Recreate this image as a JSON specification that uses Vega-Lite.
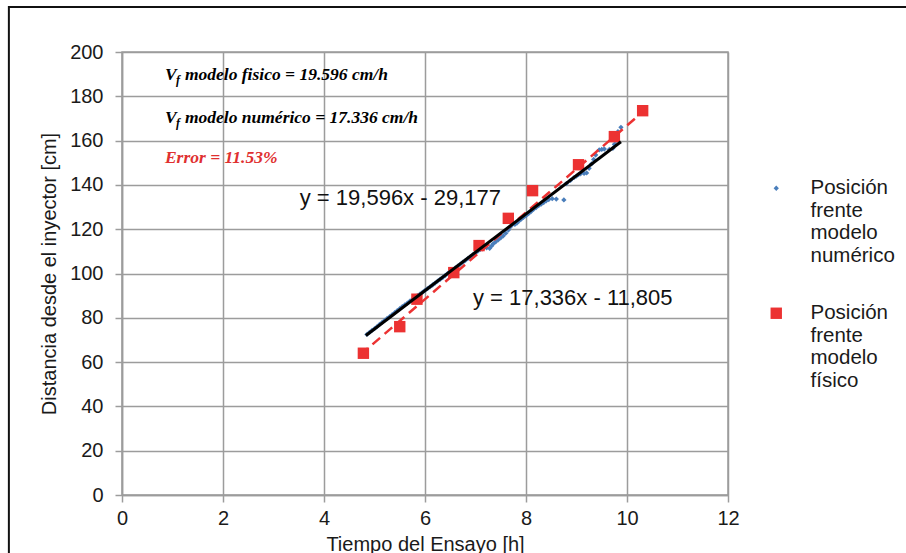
{
  "$schema": "https://vega.github.io/schema/vega-lite/v6.json",
  "width": 606,
  "height": 443,
  "autosize": "none",
  "padding": {"left": 122, "top": 52, "right": 178, "bottom": 58},
  "background": "white",
  "config": {
    "font": "Liberation Sans",
    "view": {"stroke": "#9c9c9c", "strokeWidth": 1.5},
    "axis": {
      "grid": true,
      "labelFlush": false,
      "gridColor": "#9c9c9c", "gridWidth": 1.5, "gridOpacity": 1,
      "domainColor": "#9c9c9c", "domainWidth": 1.5,
      "tickColor": "#9c9c9c", "tickWidth": 1.5, "tickSize": 7,
      "labelFont": "Liberation Sans", "labelFontSize": 20, "labelColor": "#1a1a1a",
      "titleFont": "Liberation Sans", "titleFontSize": 20, "titleFontWeight": "normal", "titleColor": "#1a1a1a"
    }
  },
  "layer": [
    {
      "data": {"values": [
        {"t": 4.85, "d": 72.5, "serie": "Posición frente modelo numérico"},
        {"t": 4.9, "d": 73.4, "serie": "Posición frente modelo numérico"},
        {"t": 4.95, "d": 74.3, "serie": "Posición frente modelo numérico"},
        {"t": 5.0, "d": 75.1, "serie": "Posición frente modelo numérico"},
        {"t": 5.05, "d": 76.0, "serie": "Posición frente modelo numérico"},
        {"t": 5.1, "d": 77.0, "serie": "Posición frente modelo numérico"},
        {"t": 5.15, "d": 77.9, "serie": "Posición frente modelo numérico"},
        {"t": 5.2, "d": 78.8, "serie": "Posición frente modelo numérico"},
        {"t": 5.25, "d": 79.7, "serie": "Posición frente modelo numérico"},
        {"t": 5.3, "d": 80.5, "serie": "Posición frente modelo numérico"},
        {"t": 5.35, "d": 81.4, "serie": "Posición frente modelo numérico"},
        {"t": 5.4, "d": 82.3, "serie": "Posición frente modelo numérico"},
        {"t": 5.45, "d": 83.2, "serie": "Posición frente modelo numérico"},
        {"t": 5.5, "d": 84.1, "serie": "Posición frente modelo numérico"},
        {"t": 5.55, "d": 85.0, "serie": "Posición frente modelo numérico"},
        {"t": 5.6, "d": 85.8, "serie": "Posición frente modelo numérico"},
        {"t": 5.65, "d": 86.6, "serie": "Posición frente modelo numérico"},
        {"t": 5.7, "d": 87.5, "serie": "Posición frente modelo numérico"},
        {"t": 5.75, "d": 88.3, "serie": "Posición frente modelo numérico"},
        {"t": 5.8, "d": 89.2, "serie": "Posición frente modelo numérico"},
        {"t": 5.85, "d": 90.0, "serie": "Posición frente modelo numérico"},
        {"t": 5.9, "d": 90.7, "serie": "Posición frente modelo numérico"},
        {"t": 5.95, "d": 91.5, "serie": "Posición frente modelo numérico"},
        {"t": 6.0, "d": 92.4, "serie": "Posición frente modelo numérico"},
        {"t": 6.05, "d": 93.2, "serie": "Posición frente modelo numérico"},
        {"t": 6.1, "d": 94.0, "serie": "Posición frente modelo numérico"},
        {"t": 6.15, "d": 94.8, "serie": "Posición frente modelo numérico"},
        {"t": 6.2, "d": 95.7, "serie": "Posición frente modelo numérico"},
        {"t": 6.25, "d": 96.6, "serie": "Posición frente modelo numérico"},
        {"t": 6.3, "d": 97.4, "serie": "Posición frente modelo numérico"},
        {"t": 6.35, "d": 98.2, "serie": "Posición frente modelo numérico"},
        {"t": 6.4, "d": 99.1, "serie": "Posición frente modelo numérico"},
        {"t": 6.45, "d": 100.0, "serie": "Posición frente modelo numérico"},
        {"t": 6.5, "d": 100.8, "serie": "Posición frente modelo numérico"},
        {"t": 6.55, "d": 101.6, "serie": "Posición frente modelo numérico"},
        {"t": 6.6, "d": 102.5, "serie": "Posición frente modelo numérico"},
        {"t": 6.65, "d": 103.3, "serie": "Posición frente modelo numérico"},
        {"t": 6.7, "d": 104.2, "serie": "Posición frente modelo numérico"},
        {"t": 6.75, "d": 105.1, "serie": "Posición frente modelo numérico"},
        {"t": 6.8, "d": 105.9, "serie": "Posición frente modelo numérico"},
        {"t": 6.85, "d": 106.8, "serie": "Posición frente modelo numérico"},
        {"t": 6.9, "d": 107.6, "serie": "Posición frente modelo numérico"},
        {"t": 6.95, "d": 108.5, "serie": "Posición frente modelo numérico"},
        {"t": 7.0, "d": 109.3, "serie": "Posición frente modelo numérico"},
        {"t": 7.05, "d": 110.2, "serie": "Posición frente modelo numérico"},
        {"t": 7.1, "d": 110.9, "serie": "Posición frente modelo numérico"},
        {"t": 7.15, "d": 111.3, "serie": "Posición frente modelo numérico"},
        {"t": 7.22, "d": 111.6, "serie": "Posición frente modelo numérico"},
        {"t": 7.28, "d": 111.4, "serie": "Posición frente modelo numérico"},
        {"t": 7.32, "d": 112.5, "serie": "Posición frente modelo numérico"},
        {"t": 7.35, "d": 113.4, "serie": "Posición frente modelo numérico"},
        {"t": 7.4, "d": 114.3, "serie": "Posición frente modelo numérico"},
        {"t": 7.45, "d": 115.2, "serie": "Posición frente modelo numérico"},
        {"t": 7.5, "d": 116.1, "serie": "Posición frente modelo numérico"},
        {"t": 7.55, "d": 117.0, "serie": "Posición frente modelo numérico"},
        {"t": 7.6, "d": 118.2, "serie": "Posición frente modelo numérico"},
        {"t": 7.65, "d": 119.6, "serie": "Posición frente modelo numérico"},
        {"t": 7.68, "d": 120.8, "serie": "Posición frente modelo numérico"},
        {"t": 7.72, "d": 121.8, "serie": "Posición frente modelo numérico"},
        {"t": 7.78, "d": 122.2, "serie": "Posición frente modelo numérico"},
        {"t": 7.82, "d": 122.8, "serie": "Posición frente modelo numérico"},
        {"t": 7.85, "d": 123.5, "serie": "Posición frente modelo numérico"},
        {"t": 7.9, "d": 124.4, "serie": "Posición frente modelo numérico"},
        {"t": 7.95, "d": 125.3, "serie": "Posición frente modelo numérico"},
        {"t": 8.0, "d": 126.1, "serie": "Posición frente modelo numérico"},
        {"t": 8.05, "d": 127.0, "serie": "Posición frente modelo numérico"},
        {"t": 8.1, "d": 128.0, "serie": "Posición frente modelo numérico"},
        {"t": 8.15, "d": 129.0, "serie": "Posición frente modelo numérico"},
        {"t": 8.2, "d": 129.8, "serie": "Posición frente modelo numérico"},
        {"t": 8.25, "d": 130.6, "serie": "Posición frente modelo numérico"},
        {"t": 8.3, "d": 131.3, "serie": "Posición frente modelo numérico"},
        {"t": 8.35, "d": 132.0, "serie": "Posición frente modelo numérico"},
        {"t": 8.4, "d": 132.8, "serie": "Posición frente modelo numérico"},
        {"t": 8.45, "d": 133.4, "serie": "Posición frente modelo numérico"},
        {"t": 8.52, "d": 133.8, "serie": "Posición frente modelo numérico"},
        {"t": 8.6, "d": 133.6, "serie": "Posición frente modelo numérico"},
        {"t": 8.75, "d": 133.2, "serie": "Posición frente modelo numérico"},
        {"t": 8.8, "d": 140.6, "serie": "Posición frente modelo numérico"},
        {"t": 8.88, "d": 142.0, "serie": "Posición frente modelo numérico"},
        {"t": 8.95, "d": 143.3, "serie": "Posición frente modelo numérico"},
        {"t": 9.0, "d": 144.0, "serie": "Posición frente modelo numérico"},
        {"t": 9.04, "d": 144.6, "serie": "Posición frente modelo numérico"},
        {"t": 9.08, "d": 145.0, "serie": "Posición frente modelo numérico"},
        {"t": 9.15, "d": 145.2, "serie": "Posición frente modelo numérico"},
        {"t": 9.2, "d": 145.4, "serie": "Posición frente modelo numérico"},
        {"t": 9.25, "d": 147.5, "serie": "Posición frente modelo numérico"},
        {"t": 9.3, "d": 149.5, "serie": "Posición frente modelo numérico"},
        {"t": 9.34, "d": 151.5, "serie": "Posición frente modelo numérico"},
        {"t": 9.38, "d": 153.5, "serie": "Posición frente modelo numérico"},
        {"t": 9.45, "d": 155.8, "serie": "Posición frente modelo numérico"},
        {"t": 9.5, "d": 156.0, "serie": "Posición frente modelo numérico"},
        {"t": 9.55, "d": 156.2, "serie": "Posición frente modelo numérico"},
        {"t": 9.65, "d": 156.0, "serie": "Posición frente modelo numérico"},
        {"t": 9.72, "d": 156.5, "serie": "Posición frente modelo numérico"},
        {"t": 9.75, "d": 158.3, "serie": "Posición frente modelo numérico"},
        {"t": 9.78, "d": 160.0, "serie": "Posición frente modelo numérico"},
        {"t": 9.8, "d": 162.0, "serie": "Posición frente modelo numérico"},
        {"t": 9.82, "d": 164.0, "serie": "Posición frente modelo numérico"},
        {"t": 9.88, "d": 166.0, "serie": "Posición frente modelo numérico"},
        {"t": 4.78, "d": 64.0, "serie": "Posición frente modelo físico"},
        {"t": 5.5, "d": 76.0, "serie": "Posición frente modelo físico"},
        {"t": 5.84, "d": 88.4, "serie": "Posición frente modelo físico"},
        {"t": 6.57, "d": 100.4, "serie": "Posición frente modelo físico"},
        {"t": 7.07, "d": 112.6, "serie": "Posición frente modelo físico"},
        {"t": 7.65, "d": 124.9, "serie": "Posición frente modelo físico"},
        {"t": 8.13, "d": 137.4, "serie": "Posición frente modelo físico"},
        {"t": 9.04, "d": 149.1, "serie": "Posición frente modelo físico"},
        {"t": 9.75, "d": 161.8, "serie": "Posición frente modelo físico"},
        {"t": 10.31, "d": 173.5, "serie": "Posición frente modelo físico"}
      ]},
      "mark": {"type": "point", "filled": true, "opacity": 1},
      "encoding": {
        "x": {"field": "t", "type": "quantitative", "title": "Tiempo del Ensayo [h]",
              "scale": {"domain": [0, 12], "nice": false, "zero": false},
              "axis": {"values": [0, 2, 4, 6, 8, 10, 12], "labelPadding": 6, "titlePadding": 6}},
        "y": {"field": "d", "type": "quantitative", "title": "Distancia desde el inyector [cm]",
              "scale": {"domain": [0, 200], "nice": false, "zero": false},
              "axis": {"values": [0, 20, 40, 60, 80, 100, 120, 140, 160, 180, 200], "labelPadding": 12, "titlePadding": 10}},
        "color": {"field": "serie", "type": "nominal",
                  "scale": {"domain": ["Posición frente modelo numérico", "Posición frente modelo físico"], "range": ["#4a7ebb", "#ec3232"]},
                  "legend": {"title": null, "orient": "none", "legendX": 644, "legendY": 126, "padding": 0,
                             "labelFont": "Liberation Sans", "labelFontSize": 20.5, "labelColor": "#1a1a1a", "labelLimit": 0,
                             "labelOffset": 24, "labelBaseline": "middle", "rowPadding": 36,
                             "labelExpr": "datum.label == 'Posición frente modelo numérico' ? ['Posición','frente','modelo','numérico'] : ['Posición','frente','modelo','físico']"}},
        "shape": {"field": "serie", "type": "nominal",
                  "scale": {"domain": ["Posición frente modelo numérico", "Posición frente modelo físico"], "range": ["diamond", "square"]}},
        "size": {"field": "serie", "type": "nominal",
                 "scale": {"domain": ["Posición frente modelo numérico", "Posición frente modelo físico"], "range": [28, 130]}}
      }
    },
    {
      "data": {"values": [{"t": 4.72, "d": 63.3}, {"t": 10.31, "d": 172.9}]},
      "mark": {"type": "line", "color": "#ec3232", "strokeWidth": 2.5, "strokeDash": [10, 6]},
      "encoding": {"x": {"field": "t", "type": "quantitative"}, "y": {"field": "d", "type": "quantitative"}}
    },
    {
      "data": {"values": [{"t": 4.83, "d": 72.0}, {"t": 9.88, "d": 159.5}]},
      "mark": {"type": "line", "color": "#000000", "strokeWidth": 3},
      "encoding": {"x": {"field": "t", "type": "quantitative"}, "y": {"field": "d", "type": "quantitative"}}
    },
    {
      "data": {"values": [
        {"t": 3.52, "d": 134.1, "txt": "y = 19,596x - 29,177"},
        {"t": 6.95, "d": 88.9, "txt": "y = 17,336x - 11,805"}
      ]},
      "mark": {"type": "text", "align": "left", "baseline": "middle", "font": "Liberation Sans", "fontSize": 22, "color": "#111111"},
      "encoding": {"x": {"field": "t", "type": "quantitative"}, "y": {"field": "d", "type": "quantitative"}, "text": {"field": "txt"}}
    },
    {
      "data": {"values": [
        {"t": 0.85, "d": 189.6, "txt": "V"},
        {"t": 0.85, "d": 170.2, "txt": "V"}
      ]},
      "mark": {"type": "text", "align": "left", "baseline": "middle", "font": "Liberation Serif", "fontSize": 17.5, "fontWeight": "bold", "fontStyle": "italic", "color": "#000000"},
      "encoding": {"x": {"field": "t", "type": "quantitative"}, "y": {"field": "d", "type": "quantitative"}, "text": {"field": "txt"}}
    },
    {
      "data": {"values": [
        {"t": 0.85, "d": 189.6, "txt": "f"},
        {"t": 0.85, "d": 170.2, "txt": "f"}
      ]},
      "mark": {"type": "text", "align": "left", "baseline": "middle", "font": "Liberation Serif", "fontSize": 12, "fontWeight": "bold", "fontStyle": "italic", "color": "#000000", "dx": 11, "dy": 5},
      "encoding": {"x": {"field": "t", "type": "quantitative"}, "y": {"field": "d", "type": "quantitative"}, "text": {"field": "txt"}}
    },
    {
      "data": {"values": [
        {"t": 0.85, "d": 189.6, "txt": "modelo fisico = 19.596 cm/h"},
        {"t": 0.85, "d": 170.2, "txt": "modelo numérico = 17.336 cm/h"}
      ]},
      "mark": {"type": "text", "align": "left", "baseline": "middle", "font": "Liberation Serif", "fontSize": 17.5, "fontWeight": "bold", "fontStyle": "italic", "color": "#000000", "dx": 20},
      "encoding": {"x": {"field": "t", "type": "quantitative"}, "y": {"field": "d", "type": "quantitative"}, "text": {"field": "txt"}}
    },
    {
      "data": {"values": [
        {"t": 0.85, "d": 152.1, "txt": "Error = 11.53%"}
      ]},
      "mark": {"type": "text", "align": "left", "baseline": "middle", "font": "Liberation Serif", "fontSize": 17.5, "fontWeight": "bold", "fontStyle": "italic", "color": "#e03030"},
      "encoding": {"x": {"field": "t", "type": "quantitative"}, "y": {"field": "d", "type": "quantitative"}, "text": {"field": "txt"}}
    },
    {
      "data": {"values": [{}]},
      "mark": {"type": "rect", "fill": null, "stroke": "#111111", "strokeWidth": 2, "clip": false},
      "encoding": {
        "x": {"datum": -2.24, "type": "quantitative"},
        "x2": {"datum": 15.8},
        "y": {"datum": 220.3, "type": "quantitative"},
        "y2": {"datum": -30}
      }
    }
  ]
}
